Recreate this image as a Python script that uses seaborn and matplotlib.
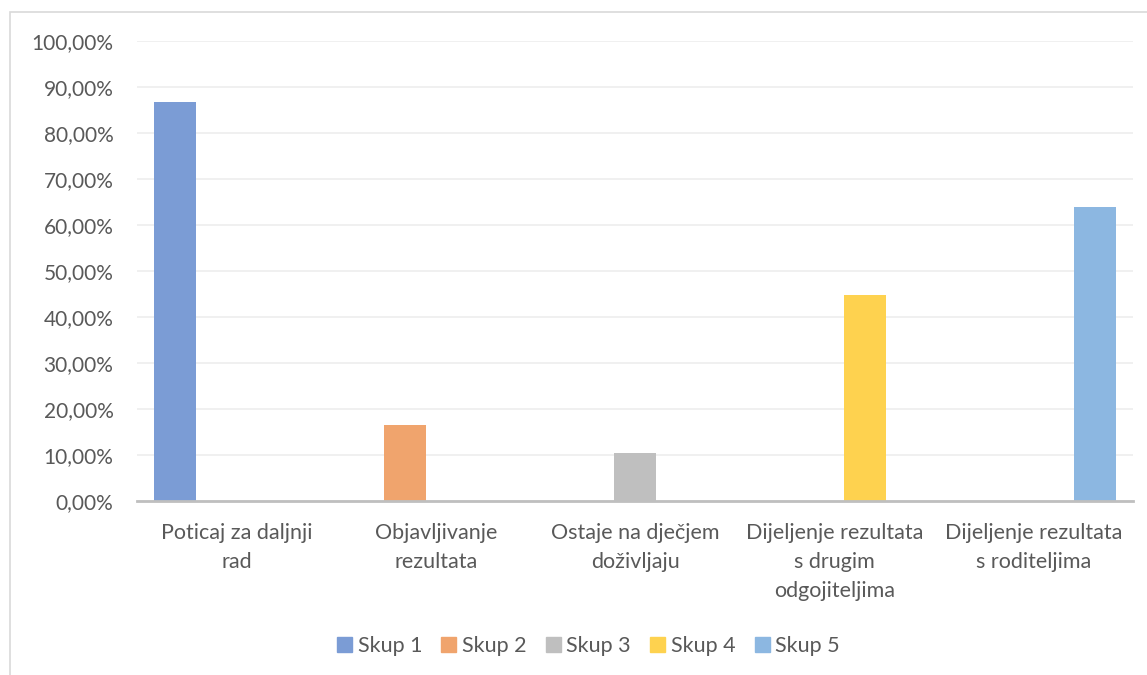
import matplotlib
matplotlib.use("Agg")
import matplotlib.pyplot as plt
import seaborn as sns
import pandas as pd
from matplotlib.ticker import FuncFormatter, MultipleLocator
from matplotlib.patches import Rectangle

# categories (x axis) and series
categories = [
    "Poticaj za daljnji\nrad",
    "Objavljivanje\nrezultata",
    "Ostaje na dječjem\ndoživljaju",
    "Dijeljenje rezultata\ns drugim\nodgojiteljima",
    "Dijeljenje rezultata\ns roditeljima",
]
series = ["Skup 1", "Skup 2", "Skup 3", "Skup 4", "Skup 5"]
colors = ["#7B9CD5", "#F0A46D", "#BFBFBF", "#FED24F", "#8CB7E1"]

# one value per series, each series only has data in its own category
skup_1 = [86.7, 0, 0, 0, 0]
skup_2 = [0, 16.6, 0, 0, 0]
skup_3 = [0, 0, 10.4, 0, 0]
skup_4 = [0, 0, 0, 44.8, 0]
skup_5 = [0, 0, 0, 0, 64.0]

rows = []
for name, vals in zip(series, [skup_1, skup_2, skup_3, skup_4, skup_5]):
    for cat, v in zip(categories, vals):
        rows.append({"kategorija": cat, "skup": name, "vrijednost": v})
df = pd.DataFrame(rows)

sns.set_theme(style="white")
plt.rcParams["font.family"] = ["Lato", "DejaVu Sans"]
text_color = "#595959"

fig = plt.figure(figsize=(11.47, 6.75), dpi=100)
ax = fig.add_axes([137 / 1147, 174 / 675, 996 / 1147, 460 / 675])

sns.barplot(data=df, x="kategorija", y="vrijednost", hue="skup",
            order=categories, hue_order=series, palette=colors,
            width=0.773, errorbar=None, saturation=1, ax=ax, legend=False)

# Excel style overlap: bars wider than their spacing
bar_w = 42 / 199
for cont in ax.containers:
    for p in cont:
        cx = p.get_x() + p.get_width() / 2
        p.set_width(bar_w)
        p.set_x(cx - bar_w / 2)
        p.set_edgecolor("none")

ax.set_xlim(-0.5, len(categories) - 0.5)
ax.set_ylim(0, 100)
ax.yaxis.set_major_locator(MultipleLocator(10))
ax.yaxis.set_major_formatter(FuncFormatter(lambda v, _: f"{v:.2f}%".replace(".", ",")))
ax.grid(axis="y", color="#EDEDED", lw=1.2)
ax.set_axisbelow(True)
for s in ["left", "right", "top"]:
    ax.spines[s].set_visible(False)
ax.spines["bottom"].set_color("#BFBFBF")
ax.spines["bottom"].set_linewidth(2)
ax.spines["bottom"].set_zorder(5)
ax.set_xlabel("")
ax.set_ylabel("")
ax.tick_params(axis="y", length=0, pad=17, labelsize=15, labelcolor=text_color)
ax.tick_params(axis="x", length=0, pad=16, labelsize=15.5, labelcolor=text_color)
for lbl in ax.get_xticklabels():
    lbl.set_linespacing(1.55)
    lbl.set_verticalalignment("top")

handles = [Rectangle((0, 0), 1, 1, color=c) for c in colors]
fig.legend(handles, series, loc="center", bbox_to_anchor=(0.513, 0.043),
           ncol=5, frameon=False, fontsize=15.5, labelcolor=text_color,
           handlelength=0.7, handleheight=0.7, handletextpad=0.25,
           columnspacing=0.9)

# chart area border (only top/left visible in the crop)
fig.add_artist(Rectangle((9.5 / 1147, -0.1), 1.5, (675 - 11.5) / 675 + 0.1,
                         transform=fig.transFigure, fill=False,
                         edgecolor="#D9D9D9", lw=1.2))

fig.savefig("out.png", dpi=100)
